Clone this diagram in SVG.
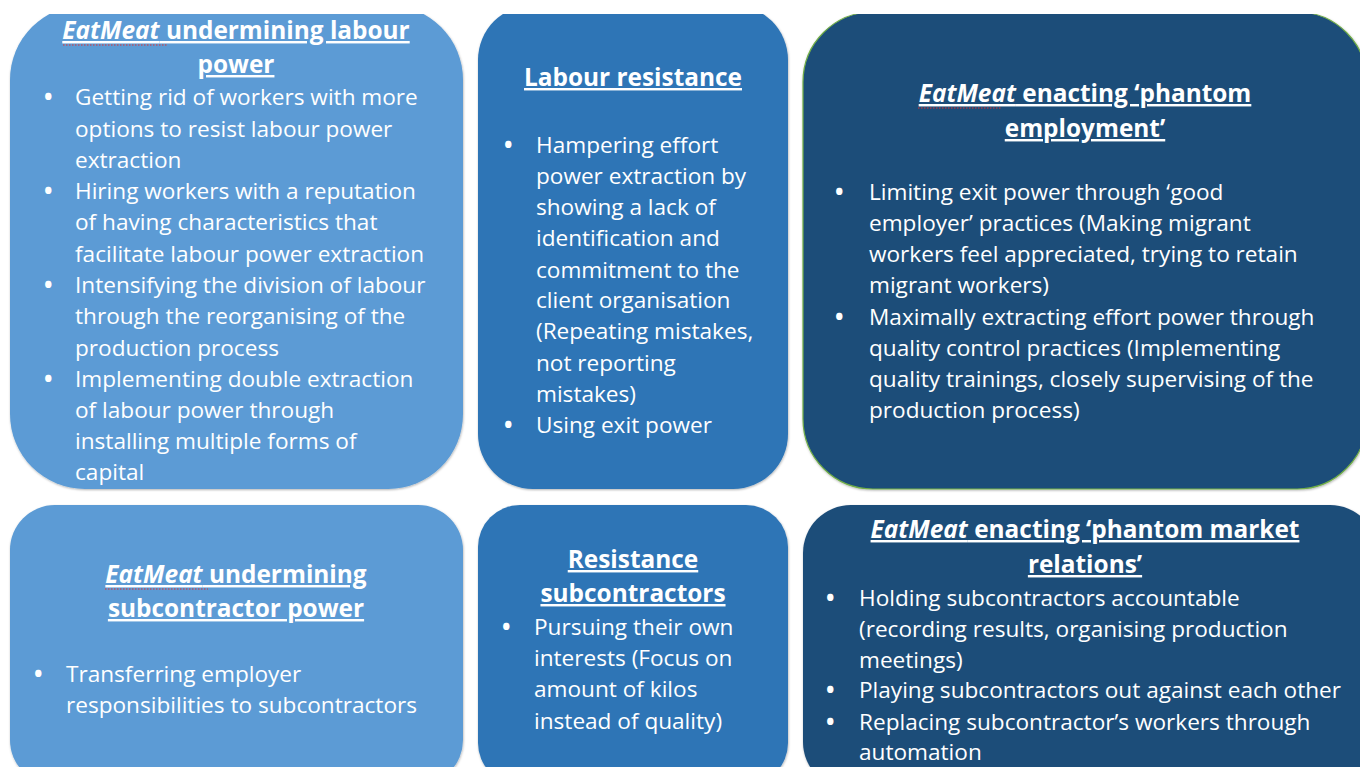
<svg xmlns="http://www.w3.org/2000/svg" width="1360" height="767" viewBox="0 0 1360 767">
  <defs>
    <clipPath id="page">
      <rect x="0" y="14" width="1360" height="753"/>
    </clipPath>
    <filter id="shade" x="-5%" y="-5%" width="110%" height="110%">
      <feDropShadow dx="0.5" dy="1" stdDeviation="0.8" flood-color="#000" flood-opacity="0.3"/>
    </filter>
  </defs>
  <style>
    .light { fill: #5B9BD5; }
    .mid { fill: #2E75B6; }
    .dark { fill: #1F4E79; }
    .edge { stroke: #70AD47; stroke-width: 1.2; }
    text { font-family: "Open Sans", Lato, "Liberation Sans", sans-serif; fill: #FFFFFF; }
    .title { font-size: 24.4px; font-weight: bold; text-anchor: middle; text-decoration: underline; }
    .title tspan.em { font-style: italic; }
    .body { font-size: 22.6px; }
    .body tspan.dot { font-weight: bold; }
    .spell { stroke: #E03030; stroke-width: 1; stroke-dasharray: 1.5 1.5; fill: none; }
  </style>

  <rect x="0" y="0" width="1360" height="767" fill="#FFFFFF"/>

  <g clip-path="url(#page)">
    <!-- top left: labour power -->
    <g id="node-labour-power">
      <rect class="light" x="10" y="5" width="453" height="484" rx="75" ry="75" filter="url(#shade)"/>
      <text class="title"><tspan x="236" y="39"><tspan class="em">EatMeat</tspan> undermining labour</tspan><tspan x="236" y="73">power</tspan></text>
      <line class="spell" x1="63" y1="45" x2="167" y2="45"/>
      <text class="body">
        <tspan class="dot" x="44" y="105">•</tspan><tspan x="75" y="105">Getting rid of workers with more</tspan>
        <tspan x="75" y="137">options to resist labour power</tspan>
        <tspan x="75" y="168">extraction</tspan>
        <tspan class="dot" x="44" y="199">•</tspan><tspan x="75" y="199">Hiring workers with a reputation</tspan>
        <tspan x="75" y="230">of having characteristics that</tspan>
        <tspan x="75" y="262">facilitate labour power extraction</tspan>
        <tspan class="dot" x="44" y="293">•</tspan><tspan x="75" y="293">Intensifying the division of labour</tspan>
        <tspan x="75" y="324">through the reorganising of the</tspan>
        <tspan x="75" y="356">production process</tspan>
        <tspan class="dot" x="44" y="387">•</tspan><tspan x="75" y="387">Implementing double extraction</tspan>
        <tspan x="75" y="418">of labour power through</tspan>
        <tspan x="75" y="449">installing multiple forms of</tspan>
        <tspan x="75" y="480">capital</tspan>
      </text>
    </g>

    <!-- top middle: labour resistance -->
    <g id="node-labour-resistance">
      <rect class="mid" x="478" y="5" width="310" height="484" rx="55" ry="55" filter="url(#shade)"/>
      <text class="title"><tspan x="633" y="86">Labour resistance</tspan></text>
      <text class="body">
        <tspan class="dot" x="504" y="153">•</tspan><tspan x="536" y="153">Hampering effort</tspan>
        <tspan x="536" y="184">power extraction by</tspan>
        <tspan x="536" y="215">showing a lack of</tspan>
        <tspan x="536" y="246">identification and</tspan>
        <tspan x="536" y="278">commitment to the</tspan>
        <tspan x="536" y="308">client organisation</tspan>
        <tspan x="536" y="339">(Repeating mistakes,</tspan>
        <tspan x="536" y="371">not reporting</tspan>
        <tspan x="536" y="402">mistakes)</tspan>
        <tspan class="dot" x="504" y="433">•</tspan><tspan x="536" y="433">Using exit power</tspan>
      </text>
    </g>

    <!-- top right: phantom employment -->
    <g id="node-phantom-employment">
      <rect class="dark edge" x="803" y="12" width="564" height="477" rx="70" ry="70" filter="url(#shade)"/>
      <text class="title"><tspan x="1085" y="102"><tspan class="em">EatMeat</tspan> enacting ‘phantom</tspan><tspan x="1085" y="137">employment’</tspan></text>
      <line class="spell" x1="918" y1="108" x2="1001" y2="108"/>
      <text class="body">
        <tspan class="dot" x="835" y="200">•</tspan><tspan x="869" y="200">Limiting exit power through ‘good</tspan>
        <tspan x="869" y="231">employer’ practices (Making migrant</tspan>
        <tspan x="869" y="262">workers feel appreciated, trying to retain</tspan>
        <tspan x="869" y="293">migrant workers)</tspan>
        <tspan class="dot" x="835" y="325">•</tspan><tspan x="869" y="325">Maximally extracting effort power through</tspan>
        <tspan x="869" y="356">quality control practices (Implementing</tspan>
        <tspan x="869" y="387">quality trainings, closely supervising of the</tspan>
        <tspan x="869" y="418">production process)</tspan>
      </text>
    </g>

    <!-- bottom left: subcontractor power -->
    <g id="node-subcontractor-power">
      <rect class="light" x="10" y="505" width="453" height="280" rx="45" ry="45" filter="url(#shade)"/>
      <text class="title"><tspan x="236" y="583"><tspan class="em">EatMeat</tspan> undermining</tspan><tspan x="236" y="617">subcontractor power</tspan></text>
      <line class="spell" x1="105" y1="589" x2="208" y2="589"/>
      <text class="body">
        <tspan class="dot" x="34" y="682">•</tspan><tspan x="66" y="682">Transferring employer</tspan>
        <tspan x="66" y="713">responsibilities to subcontractors</tspan>
      </text>
    </g>

    <!-- bottom middle: resistance subcontractors -->
    <g id="node-resistance-subcontractors">
      <rect class="mid" x="478" y="505" width="310" height="280" rx="42" ry="42" filter="url(#shade)"/>
      <text class="title"><tspan x="633" y="568">Resistance</tspan><tspan x="633" y="602">subcontractors</tspan></text>
      <text class="body">
        <tspan class="dot" x="502" y="635">•</tspan><tspan x="534" y="635">Pursuing their own</tspan>
        <tspan x="534" y="666">interests (Focus on</tspan>
        <tspan x="534" y="697">amount of kilos</tspan>
        <tspan x="534" y="729">instead of quality)</tspan>
      </text>
    </g>

    <!-- bottom right: phantom market relations -->
    <g id="node-phantom-market">
      <rect class="dark" x="803" y="505" width="575" height="285" rx="48" ry="48" filter="url(#shade)"/>
      <text class="title"><tspan x="1085" y="538"><tspan class="em">EatMeat</tspan> enacting ‘phantom market</tspan><tspan x="1085" y="573">relations’</tspan></text>
      <text class="body">
        <tspan class="dot" x="826" y="606">•</tspan><tspan x="859" y="606">Holding subcontractors accountable</tspan>
        <tspan x="859" y="637">(recording results, organising production</tspan>
        <tspan x="859" y="668">meetings)</tspan>
        <tspan class="dot" x="826" y="698">•</tspan><tspan x="859" y="698">Playing subcontractors out against each other</tspan>
        <tspan class="dot" x="826" y="730">•</tspan><tspan x="859" y="730">Replacing subcontractor’s workers through</tspan>
        <tspan x="859" y="760">automation</tspan>
      </text>
    </g>

    <!-- no connectors between the panels -->
    <g id="connectors"/>
  </g>
</svg>
